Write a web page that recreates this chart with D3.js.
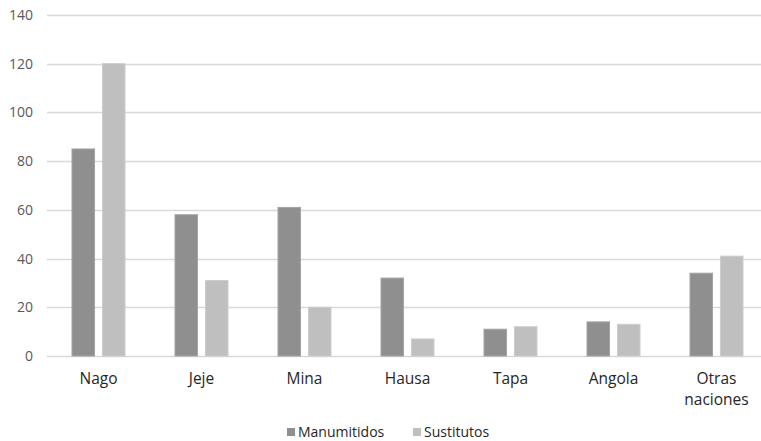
<!DOCTYPE html>
<html>
<head>
<meta charset="utf-8">
<script src="https://cdn.jsdelivr.net/npm/d3@7"></script>
<style>
  html, body { margin: 0; padding: 0; background: #fff; }
  svg { display: block; }
  text { font-family: "Open Sans", Lato, sans-serif; }
</style>
</head>
<body>
<svg id="chart" width="761" height="441"></svg>
<script>
// Nations and counts per group
const categories = ["Nago", "Jeje", "Mina", "Hausa", "Tapa", "Angola", "Otras naciones"];
const seriesNames = ["Manumitidos", "Sustitutos"];
const manumitidos = [85, 58, 61, 32, 11, 14, 34];
const sustitutos = [120, 31, 20, 7, 12, 13, 41];
const yTicks = [0, 20, 40, 60, 80, 100, 120, 140];
const colors = ["#8f8f8f", "#bfbfbf"];

const seriesValues = [manumitidos, sustitutos];
const rows = categories.map((c, i) => ({
  cat: c,
  vals: seriesNames.map((s, k) => ({ key: s, value: seriesValues[k][i] }))
}));

const svg = d3.select("#chart");
const plotLeft = 47, plotRight = 768, plotTop = 15, plotBottom = 356;
const fontFamily = "'Open Sans', Lato, sans-serif";

const x = d3.scaleBand().domain(categories).range([plotLeft, plotRight]).paddingInner(0).paddingOuter(0);
const xInner = d3.scaleBand().domain(seriesNames).range([0, 53]).paddingInner(0.26);
const y = d3.scaleLinear().domain([0, 140]).range([plotBottom, plotTop]);

// Horizontal gridlines
svg.append("g")
  .selectAll("line")
  .data(yTicks)
  .join("line")
  .attr("x1", plotLeft)
  .attr("x2", 761)
  .attr("y1", d => Math.round(y(d)) + 0.5)
  .attr("y2", d => Math.round(y(d)) + 0.5)
  .attr("stroke", "#d9d9d9")
  .attr("stroke-width", 1.5);

// Y axis labels
const yAxis = d3.axisLeft(y).tickValues(yTicks).tickSize(0).tickPadding(14);
const gy = svg.append("g").attr("transform", `translate(${plotLeft},0)`).call(yAxis);
gy.select(".domain").remove();
gy.selectAll("text")
  .attr("fill", "#595959")
  .style("font-size", "14px")
  .style("font-family", fontFamily);

// Bars
const groups = svg.append("g")
  .selectAll("g")
  .data(rows)
  .join("g")
  .attr("transform", d => `translate(${x(d.cat) + x.bandwidth() / 2 - 26.5},0)`);

groups.selectAll("rect")
  .data(d => d.vals)
  .join("rect")
  .attr("x", d => xInner(d.key))
  .attr("width", xInner.bandwidth())
  .attr("y", d => y(d.value))
  .attr("height", d => y(0) - y(d.value))
  .attr("fill", (d, i) => colors[i])
  .attr("stroke", (d, i) => i === 0 ? "#a3a3a3" : "#cccccc")
  .attr("stroke-width", 1);

// Category labels (wrapped on spaces)
const gx = svg.append("g");
categories.forEach(c => {
  const words = c.split(" ");
  const t = gx.append("text")
    .attr("x", x(c) + x.bandwidth() / 2)
    .attr("y", 384)
    .attr("text-anchor", "middle")
    .attr("fill", "#262626")
    .style("font-size", "15.5px");
  words.forEach((w, i) => {
    t.append("tspan")
      .attr("x", x(c) + x.bandwidth() / 2)
      .attr("dy", i === 0 ? 0 : 21)
      .text(w);
  });
});

// Legend
const legend = svg.append("g");
const legendX = [287, 413];
seriesNames.forEach((s, i) => {
  legend.append("rect")
    .attr("x", legendX[i])
    .attr("y", 428)
    .attr("width", 8)
    .attr("height", 8)
    .attr("fill", colors[i]);
  legend.append("text")
    .attr("x", legendX[i] + 11)
    .attr("y", 437)
    .attr("fill", "#262626")
    .style("font-size", "14px")
    .text(s);
});
</script>
</body>
</html>
